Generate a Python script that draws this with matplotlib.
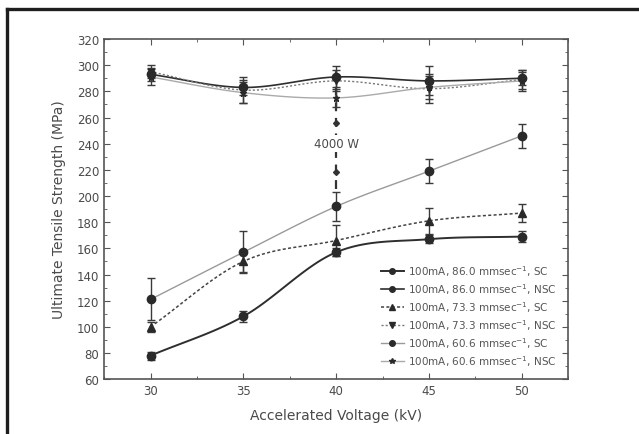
import numpy as np
import matplotlib
matplotlib.use("Agg")
import matplotlib.pyplot as plt
from matplotlib.lines import Line2D
from matplotlib.ticker import MultipleLocator

# donnees
voltage = [30, 35, 40, 45, 50]

sc_86 = [78, 108, 157, 167, 169]
sc_86_err = [3, 4, 3, 3, 4]
nsc_86 = [293, 283, 291, 288, 290]
nsc_86_err = [5, 6, 8, 11, 5]
sc_73 = [100, 150, 166, 181, 187]
sc_73_err = [4, 8, 12, 10, 7]
nsc_73 = [295, 281, 288, 282, 289]
nsc_73_err = [5, 10, 8, 11, 7]
sc_60 = [121, 157, 192, 219, 246]
sc_60_err = [16, 16, 11, 9, 9]
nsc_60 = [291, 279, 275, 283, 288]
nsc_60_err = [6, 8, 7, 9, 8]

labels = ["100mA, 86.0 mmsec$^{-1}$, SC", "100mA, 86.0 mmsec$^{-1}$, NSC",
          "100mA, 73.3 mmsec$^{-1}$, SC", "100mA, 73.3 mmsec$^{-1}$, NSC",
          "100mA, 60.6 mmsec$^{-1}$, SC", "100mA, 60.6 mmsec$^{-1}$, NSC"]

# ligne 4000 W a 40 kV
w4000_x = 40
w4000_pts = [256, 218]
w4000_span = [205, 300]

TXT = "#4a4a4a"


def smooth(xs, ys, n=30):
    """courbe lissee (hermite) pour le trace des lignes seulement"""
    xs = np.asarray(xs, float)
    ys = np.asarray(ys, float)
    m = np.gradient(ys, xs)
    xx, yy = [], []
    for i in range(len(xs) - 1):
        h = xs[i + 1] - xs[i]
        t = np.linspace(0, 1, n)
        h00 = 2*t**3 - 3*t**2 + 1
        h10 = t**3 - 2*t**2 + t
        h01 = -2*t**3 + 3*t**2
        h11 = t**3 - t**2
        xx.append(xs[i] + t*h)
        yy.append(h00*ys[i] + h10*h*m[i] + h01*ys[i+1] + h11*h*m[i+1])
    return np.concatenate(xx), np.concatenate(yy)


fig = plt.figure(figsize=(6.39, 4.35), dpi=100)
ax = fig.add_axes([0.163, 0.126, 0.726, 0.782])

series = [
    (sc_86, sc_86_err, "#2e2e2e", "-", 1.4, "o", 6),
    (nsc_86, nsc_86_err, "#2e2e2e", "-", 1.2, "o", 6),
    (sc_73, sc_73_err, "#444444", (0, (2, 1.5)), 1.1, "^", 6),
    (nsc_73, nsc_73_err, "#777777", (0, (1.5, 1.5)), 1.0, "v", 5),
    (sc_60, sc_60_err, "#9a9a9a", "-", 1.0, "o", 6),
    (nsc_60, nsc_60_err, "#aaaaaa", "-", 1.0, "*", 5),
]

handles = []
for (vals, err, col, ls, lw, mk, ms), lab in zip(series, labels):
    sx, sy = smooth(voltage, vals)
    ax.plot(sx, sy, color=col, ls=ls, lw=lw, zorder=2)
    ax.errorbar(voltage, vals, yerr=err, fmt=mk, color="#2a2a2a", ms=ms,
                ecolor="#3a3a3a", elinewidth=1.0, capsize=3, capthick=1.0, zorder=3)
    handles.append(Line2D([], [], color=col, ls=ls, lw=lw, marker=mk,
                          markersize=4, markerfacecolor="#2a2a2a",
                          markeredgecolor="#2a2a2a"))

ax.vlines(w4000_x, w4000_span[0], w4000_span[1], colors="#333333",
          linestyles=(0, (4, 3)), lw=1.6, zorder=2)
ax.plot([w4000_x]*len(w4000_pts), w4000_pts, "D", color="#333333", ms=3, zorder=3)
ax.text(w4000_x, 240, "4000 W", ha="center", va="center", fontsize=8.5, color=TXT,
        bbox=dict(facecolor="white", edgecolor="none", pad=1.5), zorder=4)

ax.set_xlim(27.5, 52.5)
ax.set_ylim(60, 320)
ax.xaxis.set_major_locator(MultipleLocator(5))
ax.xaxis.set_minor_locator(MultipleLocator(2.5))
ax.yaxis.set_major_locator(MultipleLocator(20))
ax.yaxis.set_minor_locator(MultipleLocator(10))
ax.tick_params(which="both", direction="in", top=True, right=True,
               color="#555555", labelcolor=TXT, labelsize=8.5)
ax.tick_params(which="major", length=4)
ax.tick_params(which="minor", length=2.5)
for sp in ax.spines.values():
    sp.set_color("#555555")
    sp.set_linewidth(1.2)

ax.set_xlabel("Accelerated Voltage (kV)", fontsize=10, color=TXT, labelpad=8)
ax.set_ylabel("Ultimate Tensile Strength (MPa)", fontsize=10, color=TXT, labelpad=8)

leg = ax.legend(handles, labels, loc="lower right", frameon=False, fontsize=7.5,
                handlelength=2.2, labelspacing=0.3, borderaxespad=0.7,
                handletextpad=0.4)
for t in leg.get_texts():
    t.set_color("#555555")

# cadre du scan (haut et gauche)
fig.add_artist(Line2D([0.011, 1.0], [0.977, 0.977], color="#1e1e1e", lw=2.4,
                      transform=fig.transFigure))
fig.add_artist(Line2D([0.011, 0.011], [0.0, 0.977], color="#1e1e1e", lw=2.4,
                      transform=fig.transFigure))

fig.savefig("out.png", dpi=100)
